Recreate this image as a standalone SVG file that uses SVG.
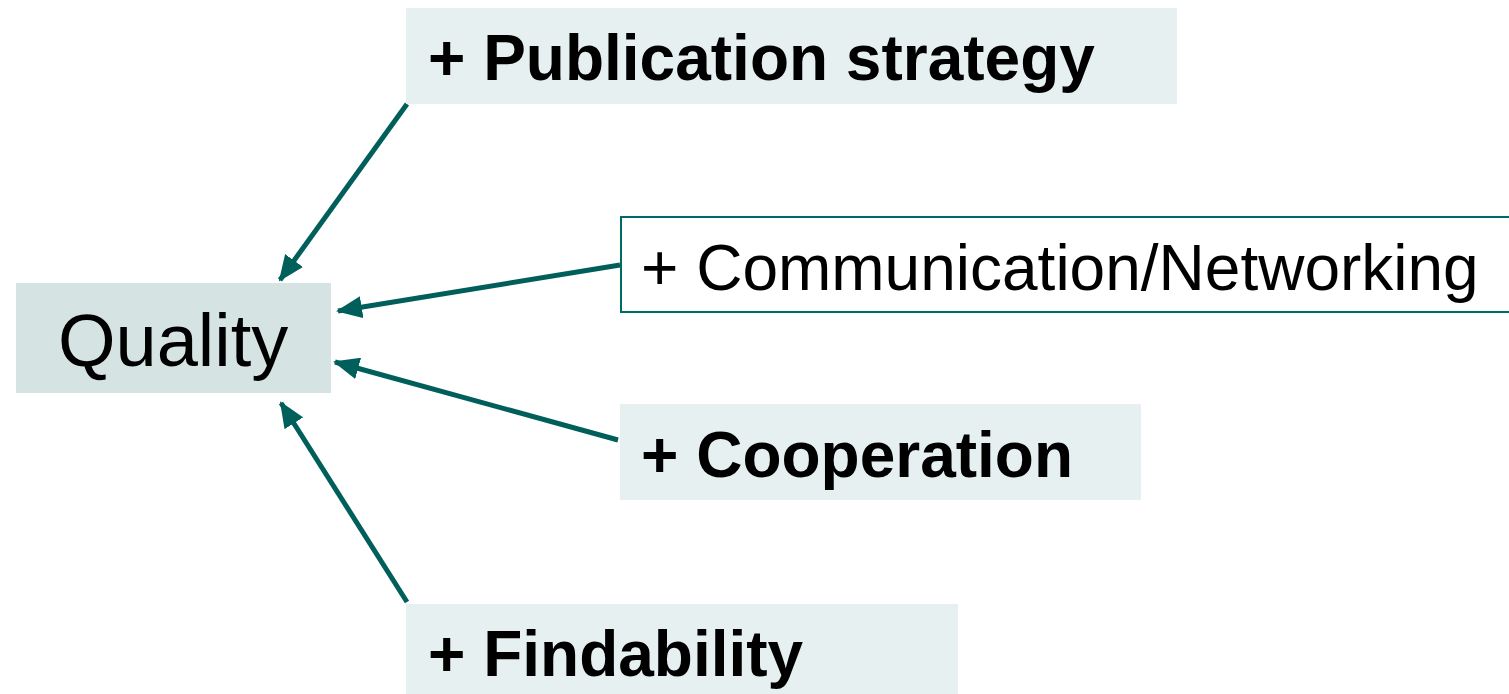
<svg xmlns="http://www.w3.org/2000/svg" width="1509" height="694" viewBox="0 0 1509 694">
  <defs>
    <marker id="head" markerUnits="userSpaceOnUse" markerWidth="26" markerHeight="22" refX="24" refY="11" orient="auto">
      <path d="M0,0 L26,11 L0,22 Z" fill="#005F5A"/>
    </marker>
    <style>
      .lbl { font-family: "Liberation Sans", Arial, sans-serif; fill: #000; }
      .b { font-weight: bold; font-size: 64px; }
      .r { font-size: 64px; }
      .pale { fill: #E6F0F1; }
      .link { stroke: #005F5A; stroke-width: 5; fill: none; marker-end: url(#head); }
    </style>
  </defs>
  <rect width="1509" height="694" fill="#fff"/>

  <g id="connectors">
    <line class="link" x1="407" y1="104" x2="280" y2="280"/>
    <line class="link" x1="620" y1="265" x2="338" y2="311"/>
    <line class="link" x1="618" y1="440" x2="335" y2="362"/>
    <line class="link" x1="407" y1="602" x2="281" y2="403"/>
  </g>

  <g id="quality">
    <rect x="16" y="283" width="315" height="110" fill="#D5E4E3"/>
    <text class="lbl" x="58" y="366" font-size="74">Quality</text>
  </g>

  <g id="publication">
    <rect class="pale" x="406" y="8" width="771" height="96"/>
    <text class="lbl b" x="428" y="80">+ Publication strategy</text>
  </g>

  <g id="communication">
    <rect x="621" y="217" width="900" height="95" fill="#fff" stroke="#006A66" stroke-width="2"/>
    <text class="lbl r" x="641" y="290">+ Communication/Networking</text>
  </g>

  <g id="cooperation">
    <rect class="pale" x="620" y="404" width="521" height="96"/>
    <text class="lbl b" x="641" y="477">+ Cooperation</text>
  </g>

  <g id="findability">
    <rect class="pale" x="406" y="604" width="552" height="95"/>
    <text class="lbl b" x="428" y="676">+ Findability</text>
  </g>
</svg>
